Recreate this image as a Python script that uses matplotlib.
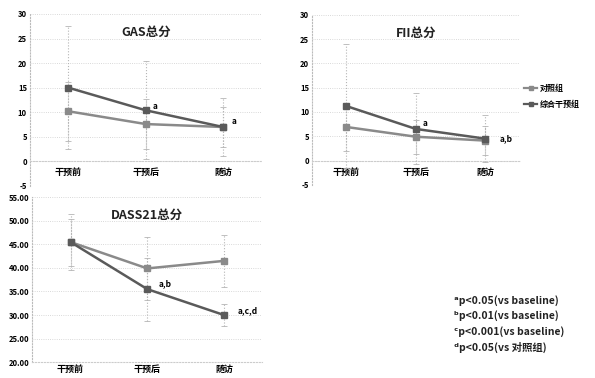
import matplotlib
matplotlib.use("Agg")
import matplotlib.pyplot as plt
from matplotlib.lines import Line2D

plt.rcParams['font.family'] = ['Noto Sans CJK SC', 'DejaVu Sans']
plt.rcParams['axes.unicode_minus'] = False

times = ["干预前", "干预后", "随访"]
groups = ["对照组", "综合干预组"]

# top-left panel
gas_title = "GAS总分"
gas_ctrl = [10.2, 7.6, 7.0]
gas_ctrl_sd = [6.0, 5.0, 4.0]
gas_int = [15.0, 10.4, 7.0]
gas_int_sd = [12.5, 10.0, 6.0]
gas_notes = ["", "a", "a"]

# top-right panel
fii_title = "FII总分"
fii_ctrl = [6.9, 4.9, 4.1]
fii_ctrl_sd = [5.0, 3.5, 3.0]
fii_int = [11.2, 6.5, 4.5]
fii_int_sd = [12.8, 7.3, 4.8]
fii_notes = ["", "a", "a,b"]

# bottom-left panel
dass_title = "DASS21总分"
dass_ctrl = [45.5, 39.9, 41.5]
dass_ctrl_sd = [6.0, 6.7, 5.5]
dass_int = [45.5, 35.5, 30.0]
dass_int_sd = [5.0, 6.7, 2.3]
dass_notes = ["", "a,b", "a,c,d"]

footnotes = ["ᵃp<0.05(vs baseline)", "ᵇp<0.01(vs baseline)",
             "ᶜp<0.001(vs baseline)", "ᵈp<0.05(vs 对照组)"]

ctrl_color = "#8a8a8a"
int_color = "#5a5a5a"


def panel(ax, title, ctrl, ctrl_sd, inter, inter_sd, notes, ylim, yticks, fmt, zero_axis, note_offsets):
    x = list(range(len(times)))
    for vals, sd, col in [(ctrl, ctrl_sd, ctrl_color), (inter, inter_sd, int_color)]:
        eb = ax.errorbar(x, vals, yerr=sd, color=col, lw=1.8, marker='s', ms=4,
                         mfc=col, mec=col, ecolor="#b5b5b5", elinewidth=0.8,
                         capsize=2, capthick=0.6, zorder=3)
        for bars in eb[2]:
            bars.set_linestyle(':')
    ax.set_xlim(-0.5, 2.5)
    ax.set_ylim(*ylim)
    for s in ['top', 'right']:
        ax.spines[s].set_visible(False)
    ax.spines['left'].set_color("#bbbbbb")
    ax.spines['left'].set_linestyle(':')
    ax.spines['bottom'].set_color("#cccccc")
    ax.spines['bottom'].set_linestyle(':')
    if zero_axis:
        ax.spines['bottom'].set_position(('data', 0))
    ax.set_yticks(yticks)
    ax.set_yticklabels([fmt.format(v) for v in yticks], fontsize=5.5, fontweight='bold')
    ax.set_xticks(x)
    ax.set_xticklabels(times, fontsize=6.5, fontweight='bold')
    ax.tick_params(axis='y', length=0, pad=2)
    ax.tick_params(axis='x', length=0, pad=5 if zero_axis else 2)
    ax.grid(axis='y', color="#cccccc", lw=0.6, ls=':')
    ax.text(0.5, 0.93, title, transform=ax.transAxes, ha='center', va='top',
            fontsize=9, fontweight='bold', color="#222222")
    for i, n in enumerate(notes):
        if n:
            ax.annotate(n, (i, inter[i]), xytext=note_offsets[i], textcoords='offset points',
                        fontsize=6, fontweight='bold', va='center', ha='left')


fig = plt.figure(figsize=(5.95, 3.78), dpi=100)
ax1 = fig.add_axes([0.050, 0.508, 0.390, 0.455])
ax2 = fig.add_axes([0.524, 0.511, 0.350, 0.450])
ax3 = fig.add_axes([0.054, 0.042, 0.387, 0.436])

ticks_top = [-5, 0, 5, 10, 15, 20, 25, 30]
panel(ax1, gas_title, gas_ctrl, gas_ctrl_sd, gas_int, gas_int_sd, gas_notes,
      (-5, 30), ticks_top, "{:d}", True, [None, (5, 3), (6, 4)])
panel(ax2, fii_title, fii_ctrl, fii_ctrl_sd, fii_int, fii_int_sd, fii_notes,
      (-5, 30), ticks_top, "{:d}", True, [None, (5, 4), (10, 0)])
panel(ax3, dass_title, dass_ctrl, dass_ctrl_sd, dass_int, dass_int_sd, dass_notes,
      (20, 55), [20, 25, 30, 35, 40, 45, 50, 55], "{:.2f}", False, [None, (8, 4), (10, 3)])

handles = [Line2D([], [], color=c, lw=1.6, marker='s', ms=3.5) for c in (ctrl_color, int_color)]
leg = ax2.legend(handles, groups, loc='center left', bbox_to_anchor=(1.0, 0.52), frameon=False,
                 fontsize=5.8, handlelength=1.6, handletextpad=0.3, labelspacing=0.9,
                 borderaxespad=0.3, borderpad=0.2)
for t in leg.get_texts():
    t.set_fontweight('bold')

for i, t in enumerate(footnotes):
    fig.text(0.763, 0.206 - i * 0.042, t, fontsize=7.5, fontweight='bold',
             ha='left', va='center', color="#222222")

fig.savefig("out.png", dpi=100)
